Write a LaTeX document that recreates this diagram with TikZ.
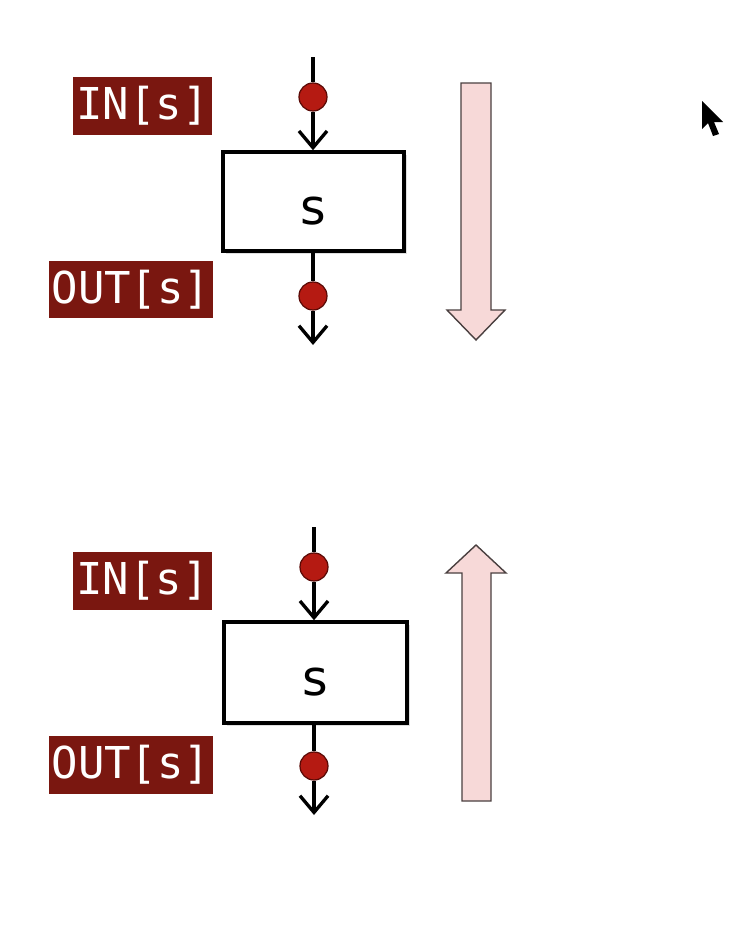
\documentclass[tikz,border=0pt]{standalone}
\usepackage{fontspec}
\setmainfont{DejaVu Sans}
\setmonofont{DejaVu Sans Mono}
\usetikzlibrary{arrows.meta,shadows}
\definecolor{lbl}{HTML}{7A1710}
\definecolor{dotred}{HTML}{B51A12}
\definecolor{dotedge}{HTML}{5A0A06}
\definecolor{pinkfill}{HTML}{F7D9D8}
\definecolor{pinkedge}{HTML}{4A4040}
\begin{document}
\begin{tikzpicture}[x=0.02cm,y=-0.02cm,
 blockbox/.style={draw=black, line width=2pt, fill=white, minimum width=3.62cm, minimum height=1.98cm, inner sep=0pt, font=\fontsize{28}{30}\selectfont, drop shadow={shadow xshift=1.5pt, shadow yshift=-1.5pt, opacity=0.25}},
 dotnode/.style={circle, fill=dotred, draw=dotedge, line width=0.7pt, minimum size=0.56cm, inner sep=0pt},
 lblnode/.style={fill=lbl, text=white, font=\ttfamily\fontsize{25}{26}\selectfont, inner sep=0pt, minimum height=1.16cm},
 flow/.style={line width=1.9pt, black},
 flowarrow/.style={flow, -{Straight Barb[length=9.5pt, width=16pt]}},
 bigarrow/.style={fill=pinkfill, draw=pinkedge, line width=0.8pt, line join=miter},
 cursorshape/.style={fill=black}]
\useasboundingbox (0,0) rectangle (752,943);
\fill[white] (0,0) rectangle (752,943);

% ---- top diagram ----
\coordinate (inA) at (313,57);
\node[dotnode] (dA1) at (313,97) {};
\node[blockbox] (boxA) at (313.5,201.5) {\raisebox{-5pt}[\height][0pt]{s}};
\node[dotnode] (dA2) at (313,296) {};
\coordinate (outA) at (313,345);
\draw[flow] (inA) -- (dA1);
\draw[flowarrow] (dA1) -- (dA1 |- boxA.north);
\draw[flow] (dA2 |- boxA.south) -- (dA2);
\draw[flowarrow] (dA2) -- (outA);
\node[lblnode, minimum width=2.78cm] (inlblA) at (142.5,106) {IN[s]};
\node[lblnode, minimum width=3.28cm] (outlblA) at (131,289.5) {OUT[s]};
\path[bigarrow] (461,83) -- (491,83) -- (491,310) -- (505,310) -- (476,340) -- (447,310) -- (461,310) -- cycle;

% ---- bottom diagram ----
\coordinate (inB) at (314,527);
\node[dotnode] (dB1) at (314,567) {};
\node[blockbox, minimum width=3.66cm, minimum height=2.02cm] (boxB) at (315.5,672.5) {\raisebox{-5pt}[\height][0pt]{s}};
\node[dotnode] (dB2) at (314,766) {};
\coordinate (outB) at (314,815);
\draw[flow] (inB) -- (dB1);
\draw[flowarrow] (dB1) -- (dB1 |- boxB.north);
\draw[flow] (dB2 |- boxB.south) -- (dB2);
\draw[flowarrow] (dB2) -- (outB);
\node[lblnode, minimum width=2.78cm] (inlblB) at (142.5,581) {IN[s]};
\node[lblnode, minimum width=3.28cm] (outlblB) at (131,765) {OUT[s]};
\path[bigarrow] (476,545) -- (506,573) -- (491,573) -- (491,801) -- (462,801) -- (462,573) -- (446,573) -- cycle;

% ---- mouse cursor ----
\path[cursorshape] (702,101) -- (702,129) -- (708,123) -- (713,136) -- (719,134) -- (714,122) -- (723,122) -- cycle;
\end{tikzpicture}
\end{document}
